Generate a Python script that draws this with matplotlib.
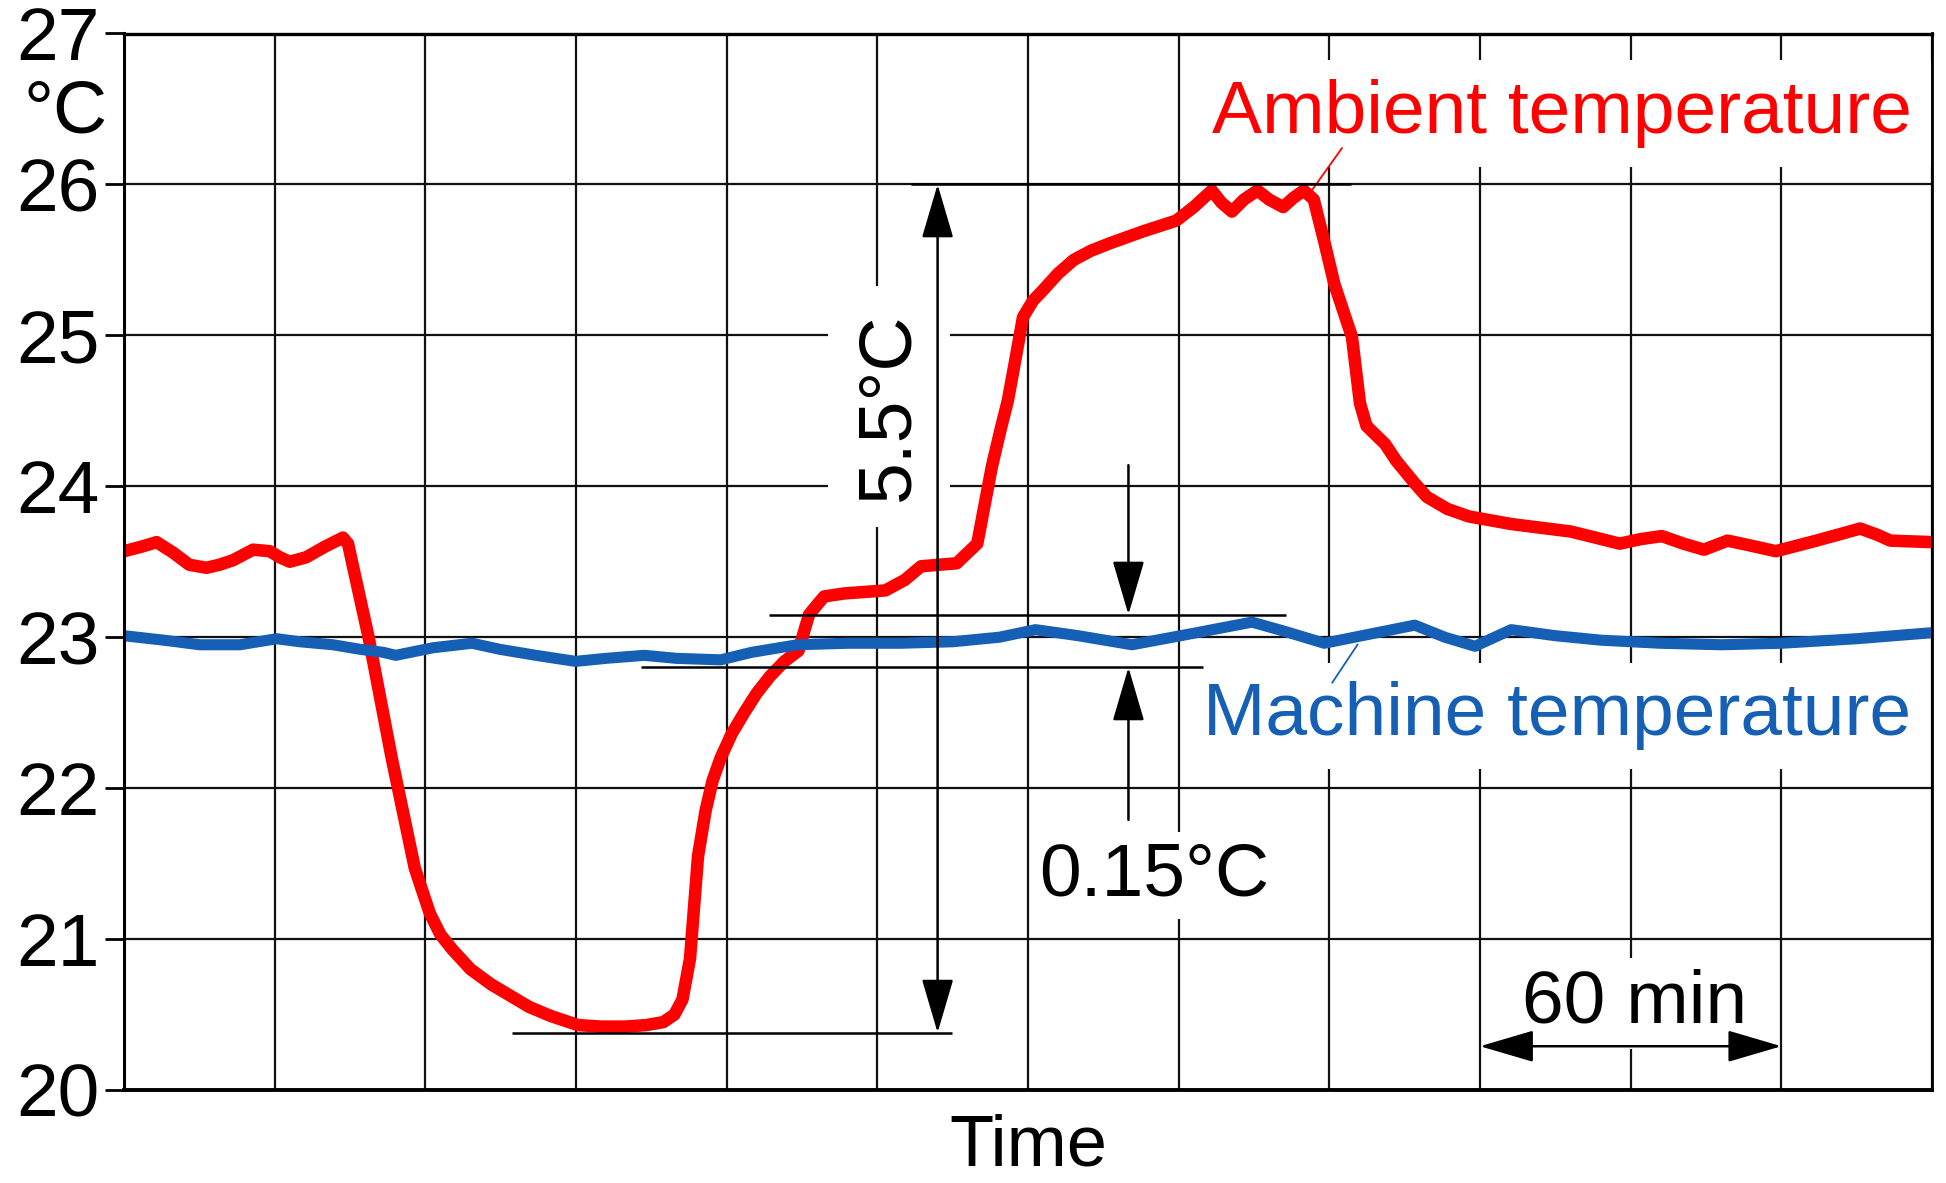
import numpy as np
import matplotlib.pyplot as plt

plt.rcParams['font.family'] = ['Liberation Sans', 'DejaVu Sans']

# time axis in minutes (one grid column = 30 min), temperatures in degC
ambient_t = [0, 3.5, 6.5, 9.8, 13.0, 16.4, 19.0, 21.7, 25.7, 29.0,
             31.0, 33.0, 36.3, 40.0, 43.6, 44.6, 48.7, 53.3, 57.9, 60.9,
             63.0, 65.4, 69.0, 73.1, 80.7, 85.0, 90.4, 95.0, 99.7, 104.0,
             107.4, 109.6, 111.2, 112.7, 114.3, 115.8, 117.2, 118.8, 121.0, 123.5,
             126.0, 128.6, 131.5, 134.3, 136.4, 139.4, 143.4, 151.6, 155.5, 158.7,
             165.8, 169.9, 172.8, 174.5, 176.0, 177.6, 179.0, 181.0, 183.0, 186.0,
             189.1, 192.5, 196.3, 203.0, 209.5, 213.0, 216.6, 218.5, 220.6, 223.0,
             225.7, 228.0, 230.8, 232.8, 234.9, 236.9, 239.0, 241.0, 244.5, 246.1,
             247.4, 251.1, 253.3, 257.0, 259.4, 263.5, 267.8, 276.2, 288.1, 297.8,
             302.0, 306.2, 310.5, 314.6, 319.3, 323.5, 328.9, 337.0, 345.7, 349.0,
             351.7, 360]
ambient_temp = [23.57, 23.60, 23.63, 23.56, 23.48, 23.46, 23.48, 23.51, 23.58, 23.57,
                23.53, 23.50, 23.53, 23.60, 23.66, 23.62, 23.0, 22.2, 21.47, 21.17,
                21.03, 20.93, 20.80, 20.70, 20.55, 20.49, 20.43, 20.42, 20.42, 20.43,
                20.45, 20.50, 20.60, 20.87, 21.55, 21.85, 22.05, 22.2, 22.36, 22.5,
                22.63, 22.74, 22.84, 22.91, 23.15, 23.27, 23.29, 23.31, 23.38, 23.47,
                23.49, 23.62, 24.13, 24.37, 24.57, 24.86, 25.12, 25.23, 25.30, 25.41,
                25.50, 25.56, 25.61, 25.69, 25.76, 25.85, 25.96, 25.88, 25.82, 25.90,
                25.96, 25.90, 25.85, 25.91, 25.96, 25.90, 25.62, 25.34, 24.99, 24.55,
                24.40, 24.28, 24.17, 24.02, 23.93, 23.85, 23.80, 23.75, 23.70, 23.62,
                23.65, 23.67, 23.62, 23.58, 23.64, 23.61, 23.57, 23.64, 23.72, 23.68,
                23.64, 23.63]

machine_t = [0, 8.0, 15.1, 23.1, 30.4, 35.0, 41.6, 47.0, 51.6, 54.1,
             61.5, 69.3, 74.8, 82.0, 89.9, 96.0, 103.6, 110.0, 118.8, 125.0,
             134.1, 144.0, 154.5, 165.0, 174.3, 181.5, 190.0, 200.7, 212.0, 224.6,
             231.0, 239.0, 248.0, 257.0, 263.0, 269.0, 276.2, 285.0, 294.2, 306.0,
             318.1, 330.0, 345.0, 360]
machine_temp = [23.01, 22.98, 22.95, 22.95, 22.99, 22.97, 22.95, 22.92, 22.90, 22.88,
                22.93, 22.96, 22.92, 22.88, 22.84, 22.86, 22.88, 22.86, 22.85, 22.90,
                22.95, 22.96, 22.96, 22.97, 23.0, 23.05, 23.01, 22.95, 23.02, 23.10,
                23.04, 22.96, 23.02, 23.08, 23.00, 22.94, 23.05, 23.01, 22.98, 22.96,
                22.95, 22.96, 22.99, 23.03]

y_ticks = [20, 21, 22, 23, 24, 25, 26, 27]
x_grid = np.arange(0, 361, 30)

# annotation values
span_top, span_bottom = 26.0, 20.38      # 5.5 degC range of the ambient temperature
band_top, band_bottom = 23.15, 22.80     # 0.15 degC band of the machine
scale_start, scale_end = 270, 330        # 60 min scale bar

RED = '#ff0000'
BLUE = '#1560b4'
FS = 54

fig = plt.figure(figsize=(19.46, 11.83), dpi=100)
ax = fig.add_axes([124 / 1946, 93 / 1183, 1808 / 1946, 1056.5 / 1183])
ax.set_xlim(0, 360)
ax.set_ylim(20, 27)

ax.set_axisbelow(True)
ax.set_xticks(x_grid)
ax.set_yticks(y_ticks)
ax.tick_params(axis='x', length=0, labelbottom=False)
ax.tick_params(axis='y', direction='out', length=14, width=2, pad=3.5, labelsize=FS)
ax.grid(True, color='#111111', linewidth=1.6)
for side, lw in [('left', 2.2), ('bottom', 2.8), ('top', 2.4), ('right', 2.0)]:
    ax.spines[side].set_linewidth(lw)

ax.plot(ambient_t, ambient_temp, color=RED, lw=9, solid_joinstyle='round',
        solid_capstyle='butt', zorder=2.3)
ax.plot(machine_t, machine_temp, color=BLUE, lw=8, solid_joinstyle='round',
        solid_capstyle='butt', zorder=2.3)

box = dict(facecolor='white', edgecolor='none', boxstyle='square,pad=0.25')

# series labels
ax.text(356, 26.34, 'Ambient temperature', color=RED, fontsize=FS, ha='right',
        va='baseline', bbox=box, zorder=2.1)
ax.plot([242.5, 236.5], [26.24, 25.96], color=RED, lw=1.3, zorder=2.4)
ax.text(355.9, 22.35, 'Machine temperature', color=BLUE, fontsize=FS, ha='right',
        va='baseline', bbox=box, zorder=2.1)
ax.plot([240.6, 245.6], [22.70, 22.95], color=BLUE, lw=1.3, zorder=2.4)

arrow_kw = dict(arrowstyle='<|-|>,head_length=1.7,head_width=0.5', color='black',
                lw=1.8, mutation_scale=20, shrinkA=0, shrinkB=0)
single_kw = dict(arrow_kw, arrowstyle='-|>,head_length=1.7,head_width=0.5')

# 5.5 degC range
ax.hlines(span_top, 156.8, 244.4, color='black', lw=1.8, zorder=2.4)
ax.hlines(span_bottom, 77.3, 164.9, color='black', lw=1.8, zorder=2.4)
ax.annotate('', xy=(162, span_top), xytext=(162, span_bottom), arrowprops=arrow_kw,
            zorder=2.4)
ax.text(152.3, 24.53, '5.5°C', fontsize=FS, rotation=90, ha='center', va='center',
        bbox=dict(box, boxstyle='square,pad=0.35'), zorder=2.1)

# 0.15 degC band
ax.hlines(band_top, 128.4, 231.4, color='black', lw=1.8, zorder=2.4)
ax.hlines(band_bottom, 103.0, 214.8, color='black', lw=1.8, zorder=2.4)
ax.annotate('', xy=(200, band_top), xytext=(200, 24.14), arrowprops=single_kw,
            zorder=2.4)
ax.annotate('', xy=(200, band_bottom), xytext=(200, 21.79), arrowprops=single_kw,
            zorder=2.4)
ax.text(205.2, 21.29, '0.15°C', fontsize=FS, ha='center', va='baseline',
        bbox=dict(box, boxstyle='square,pad=0.12'), zorder=2.1)

# 60 min scale bar
ax.annotate('', xy=(scale_start, 20.29), xytext=(scale_end, 20.29), arrowprops=arrow_kw,
            zorder=2.4)
ax.text(300.7, 20.445, '60 min', fontsize=FS, ha='center', va='baseline',
        bbox=dict(box, boxstyle='square,pad=0.15'), zorder=2.1)

fig.text(108 / 1946, 1 - 113 / 1183, '°C', fontsize=FS, ha='right', va='center')
fig.text(1028 / 1946, 1 - 1166 / 1183, 'Time', fontsize=52, ha='center', va='baseline')

fig.savefig('out.png', dpi=100, facecolor='white')
